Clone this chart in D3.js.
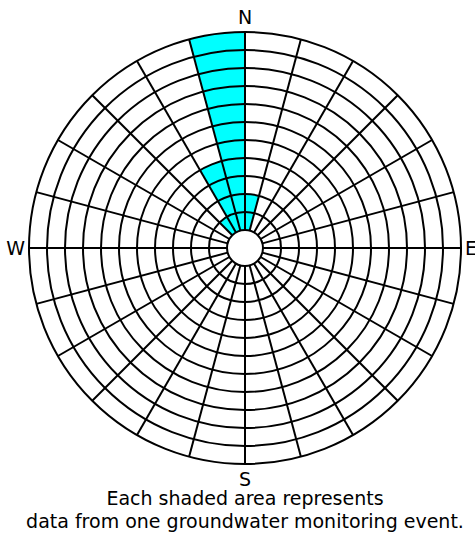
<!DOCTYPE html>
<html>
<head>
<meta charset="utf-8">
<script src="https://cdn.jsdelivr.net/npm/d3@7"></script>
<style>
  body { margin: 0; background: #fff; }
</style>
</head>
<body>
<div id="rose"></div>
<script>
// 24 direction sectors, 15 degrees each, clockwise from north
const sectorStarts = d3.range(0, 360, 15)
// events per sector (only the few northern sectors have any)
const eventCounts = [2, 0, 0, 0, 0, 0, 0, 0, 0, 0, 0, 0,
                     0, 0, 0, 0, 0, 0, 0, 0, 0, 1, 4, 11]
const ringCount = 11
const compass = ["N", "E", "S", "W"]
const caption = ["Each shaded area represents", "data from one groundwater monitoring event."]

const width = 475
const height = 535
const cx = 245, cy = 248
const innerR = 18, outerR = 216

const svg = d3.select("#rose").append("svg")
  .attr("width", width)
  .attr("height", height)
  .attr("style", "font-family: 'DejaVu Sans', sans-serif;")

const g = svg.append("g").attr("transform", `translate(${cx},${cy})`)

// ring index -> radius
const r = d3.scaleLinear().domain([0, ringCount]).range([innerR, outerR])
const rad = d => d * Math.PI / 180

// shaded cells, stacked outward from the centre
const cells = []
sectorStarts.forEach((s, i) => {
  for (let k = 0; k < eventCounts[i]; k++) cells.push({ s, k })
})

const arc = d3.arc()
  .innerRadius(d => r(d.k))
  .outerRadius(d => r(d.k + 1))
  .startAngle(d => rad(d.s))
  .endAngle(d => rad(d.s + 15))

g.append("g")
  .selectAll("path")
  .data(cells)
  .join("path")
  .attr("d", arc)
  .attr("fill", "#00ffff")

// rings
g.append("g")
  .attr("fill", "none")
  .attr("stroke", "#000")
  .attr("stroke-width", 2)
  .selectAll("circle")
  .data(d3.range(0, ringCount + 1))
  .join("circle")
  .attr("r", d => r(d))

// spokes
g.append("g")
  .attr("stroke", "#000")
  .attr("stroke-width", 2)
  .selectAll("line")
  .data(sectorStarts)
  .join("line")
  .attr("x1", d => innerR * Math.sin(rad(d)))
  .attr("y1", d => -innerR * Math.cos(rad(d)))
  .attr("x2", d => outerR * Math.sin(rad(d)))
  .attr("y2", d => -outerR * Math.cos(rad(d)))

// compass letters
const labelPos = [
  { x: 0, y: -outerR - 8, anchor: "middle" },
  { x: outerR + 4, y: 7, anchor: "start" },
  { x: 0, y: outerR + 22, anchor: "middle" },
  { x: -outerR - 4, y: 7, anchor: "end" }
]
g.append("g")
  .attr("font-size", 19)
  .selectAll("text")
  .data(compass)
  .join("text")
  .attr("x", (d, i) => labelPos[i].x)
  .attr("y", (d, i) => labelPos[i].y)
  .attr("text-anchor", (d, i) => labelPos[i].anchor)
  .text(d => d)

svg.append("g")
  .attr("font-size", 19)
  .attr("text-anchor", "middle")
  .selectAll("text")
  .data(caption)
  .join("text")
  .attr("x", cx)
  .attr("y", (d, i) => 505 + i * 23)
  .text(d => d)
</script>
</body>
</html>
